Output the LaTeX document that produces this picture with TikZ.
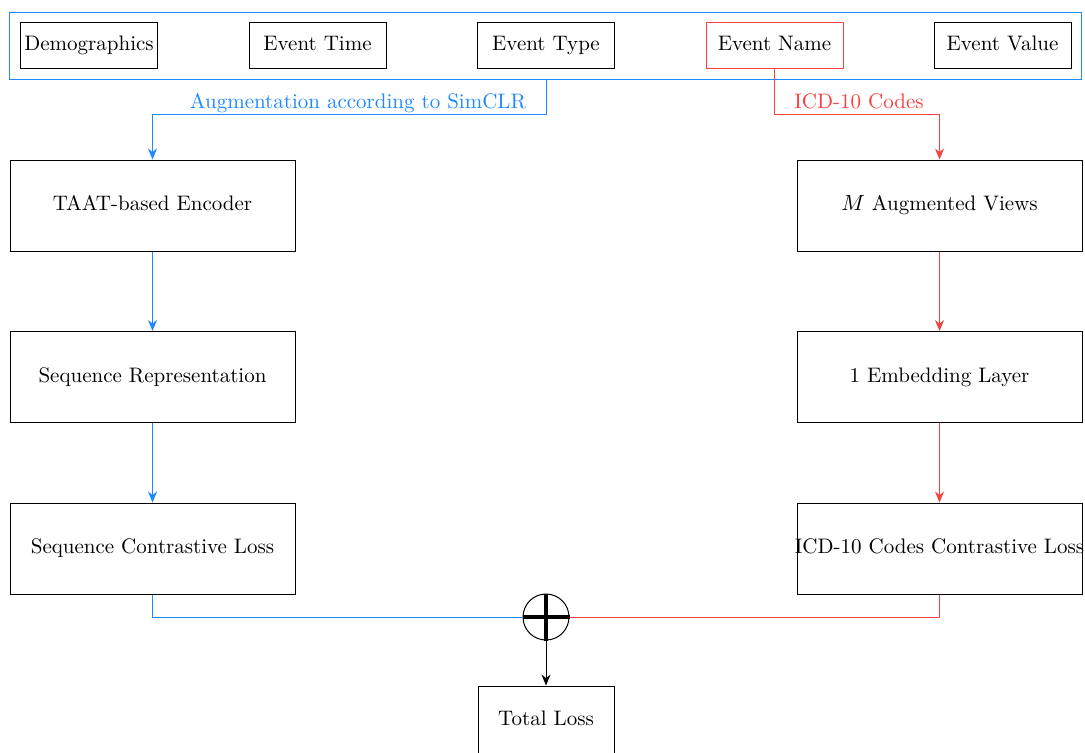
\documentclass[tikz,border=0pt]{standalone}
\usetikzlibrary{arrows.meta}
\definecolor{augblue}{RGB}{30,136,255}
\definecolor{icdred}{RGB}{250,64,64}
\begin{document}
\begin{tikzpicture}[x=0.5pt,y=-0.5pt,
  every node/.style={font=\fontsize{10.5}{12}\selectfont, inner sep=0pt, text height=0.72em, text depth=0.22em},
  field/.style={draw, line width=0.5pt, minimum width=68.5pt, minimum height=23pt},
  stage/.style={draw, line width=0.5pt, minimum width=142.5pt, minimum height=45.5pt},
  flow/.style={line width=0.5pt, -{Stealth[length=5.5pt,width=4.5pt]}},
  link/.style={line width=0.5pt}]
\useasboundingbox (0,0) rectangle (1085,752);
\clip (0,0) rectangle (1085,752);

% input fields
\node[draw=augblue, line width=0.5pt, minimum width=536pt, minimum height=33.5pt] (inputs) at (545,45.5) {};
\node[field] (demo) at (89,45) {Demographics};
\node[field] (time) at (317.5,45) {Event Time};
\node[field] (typ) at (546,45) {Event Type};
\node[field, draw=icdred] (name) at (774.5,45) {Event Name};
\node[field] (val) at (1002.5,45) {Event Value};

% sequence branch
\node[stage] (enc) at (152.5,205.5) {TAAT-based Encoder};
\node[stage] (rep) at (152.5,377) {Sequence Representation};
\node[stage] (seqloss) at (152.5,548.5) {Sequence Contrastive Loss};

% ICD-10 branch (the long label fills the whole box)
\node[stage] (views) at (939.5,205.5) {$M$ Augmented Views};
\node[stage] (emb) at (939.5,377) {1 Embedding Layer};
\node[stage] (icdloss) at (939.5,548.5) {\makebox[140pt]{ICD-10 Codes Contrastive Loss}};

% sum and total
\node[draw, circle, line width=0.5pt, minimum size=23pt, text height=0pt, text depth=0pt] (plus) at (546,617) {};
\draw[line width=1.6pt] (plus.west) -- (plus.east) (plus.north) -- (plus.south);
\node[draw, line width=0.5pt, minimum width=68pt, minimum height=34pt] (total) at (546,720) {Total Loss};

\coordinate (split) at (0,114);

% labels
\node[text=augblue] (auglbl) at (358,103) {Augmentation according to SimCLR};
\node[text=icdred] (icdlbl) at (859,103) {ICD-10 Codes};

% connectors
\draw[flow, augblue] (typ |- inputs.south) -- (typ |- split) -| (enc.north);
\draw[flow, augblue] (enc) -- (rep);
\draw[flow, augblue] (rep) -- (seqloss);
\draw[link, augblue] (seqloss.south) |- (plus.west);

\draw[flow, icdred] (name.south) -- (name |- split) -| (views.north);
\draw[flow, icdred] (views) -- (emb);
\draw[flow, icdred] (emb) -- (icdloss);
\draw[link, icdred] (icdloss.south) |- (plus.east);

\draw[flow] (plus.south) -- (total.north);
\end{tikzpicture}
\end{document}
